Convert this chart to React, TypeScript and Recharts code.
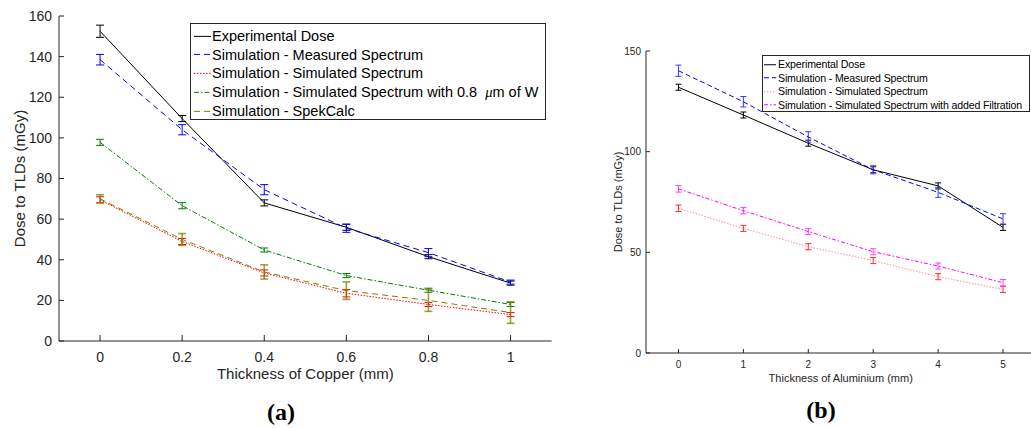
import React from "react";
import { ErrorBar, Legend, Line, LineChart, XAxis, YAxis } from "recharts";

// (a) copper filtration
const copperThickness = [0, 0.2, 0.4, 0.6, 0.8, 1];
const cuExperimental = [152.5, 109.5, 68, 56, 41.5, 28.5];
const cuExperimentalErr = [3, 1.5, 1.5, 1.5, 1, 1];
const cuMeasured = [138.5, 104, 74.5, 55.5, 43.5, 29];
const cuMeasuredErr = [2.6, 2.5, 2.5, 2, 2, 1];
const cuSimulated = [69.5, 49, 33.5, 23.5, 18, 13];
const cuSimulatedErr = [1.5, 1.5, 1.5, 1.8, 1, 1];
const cuTungsten = [97.8, 66.6, 44.8, 32.2, 25, 18];
const cuTungstenErr = [1.5, 1.5, 1, 1, 1, 1];
const cuSpekCalc = [70, 50, 34, 24.8, 20, 14];
const cuSpekCalcErr = [2, 2.9, 3.5, 4.3, 5.4, 5.3];
const cuYTicks = [0, 20, 40, 60, 80, 100, 120, 140, 160];

// (b) aluminium filtration
const aluminiumThickness = [0, 1, 2, 3, 4, 5];
const alExperimental = [132, 118.2, 104.2, 91, 83, 62.4];
const alExperimentalErr = [1.5, 1.5, 1.5, 1.5, 1.5, 1.5];
const alMeasured = [140.2, 124.8, 107.3, 91, 79.8, 66.6];
const alMeasuredErr = [2.8, 2.6, 2.6, 2, 2.5, 2.6];
const alSimulated = [71.9, 61.9, 52.8, 45.9, 37.9, 31.6];
const alSimulatedErr = [1.6, 1.5, 1.5, 1.5, 1.5, 1.5];
const alFiltered = [81.5, 70.7, 60.3, 50.3, 43.2, 34.9];
const alFilteredErr = [1.6, 1.6, 1.5, 1.5, 1.5, 1.6];
const alYTicks = [0, 50, 100, 150];

type Series = {
  key: string;
  name: React.ReactNode;
  values: number[];
  errors: number[];
  color: string;
  errColor: string;
  errWidth?: number;
  dash?: string;
};

const copperSeries: Series[] = [
  { key: "exp", name: "Experimental Dose", values: cuExperimental, errors: cuExperimentalErr, color: "#000", errColor: "#000" },
  { key: "meas", name: "Simulation - Measured Spectrum", values: cuMeasured, errors: cuMeasuredErr, color: "#0000ff", errColor: "#0000ff", dash: "6 4" },
  { key: "sim", name: "Simulation - Simulated Spectrum", values: cuSimulated, errors: cuSimulatedErr, color: "#ff0000", errColor: "#ff0000", dash: "1.5 1.5" },
  {
    key: "tung",
    name: (
      <>
        Simulation - Simulated Spectrum with 0.8&nbsp;&nbsp;<i style={{ fontFamily: "'Liberation Serif', serif" }}>μ</i>m of W
      </>
    ),
    values: cuTungsten,
    errors: cuTungstenErr,
    color: "#008000",
    errColor: "#008000",
    dash: "5 2 1.5 2",
  },
  { key: "spek", name: "Simulation - SpekCalc", values: cuSpekCalc, errors: cuSpekCalcErr, color: "#808000", errColor: "rgba(128,128,0,0.75)", errWidth: 1.6, dash: "6 4" },
];

const aluminiumSeries: Series[] = [
  { key: "exp", name: "Experimental Dose", values: alExperimental, errors: alExperimentalErr, color: "#000", errColor: "#000" },
  { key: "meas", name: "Simulation - Measured Spectrum", values: alMeasured, errors: alMeasuredErr, color: "#0000ff", errColor: "#3a3aff", dash: "5 3" },
  { key: "sim", name: "Simulation - Simulated Spectrum", values: alSimulated, errors: alSimulatedErr, color: "#ff9090", errColor: "#ff2a2a", dash: "1.5 1.5" },
  { key: "filt", name: "Simulation - Simulated Spectrum with added Filtration", values: alFiltered, errors: alFilteredErr, color: "#ff00ff", errColor: "#ff3cff", dash: "4 2 1.5 2" },
];

const buildRows = (xs: number[], series: Series[]) =>
  xs.map((x, i) => {
    const row: Record<string, number> = { x };
    series.forEach((s) => {
      row[s.key] = s.values[i];
      row[s.key + "Err"] = s.errors[i];
    });
    return row;
  });

const copperData = buildRows(copperThickness, copperSeries);
const aluminiumData = buildRows(aluminiumThickness, aluminiumSeries);

const AXIS = "#262626";

const legendBox = (
  series: Series[],
  opts: { width: number; height: number; rowH: number; padTop: number; padLeft: number; sampleW: number; gap: number; fontSize: number; spacing?: number }
) => () => (
  <div
    style={{
      boxSizing: "border-box",
      width: opts.width,
      height: opts.height,
      border: `1px solid ${AXIS}`,
      background: "#fff",
      paddingTop: opts.padTop,
      paddingLeft: opts.padLeft,
      fontSize: opts.fontSize,
      letterSpacing: opts.spacing ?? 0,
      color: "#000",
      whiteSpace: "nowrap",
    }}
  >
    {series.map((s) => (
      <div key={s.key} style={{ display: "flex", alignItems: "center", height: opts.rowH }}>
        <svg width={opts.sampleW} height={opts.rowH} style={{ marginRight: opts.gap, flex: "none" }}>
          <line x1={0} x2={opts.sampleW} y1={opts.rowH / 2} y2={opts.rowH / 2} stroke={s.color} strokeDasharray={s.dash} />
        </svg>
        <span>{s.name}</span>
      </div>
    ))}
  </div>
);

const renderLines = (series: Series[], capWidth: number) =>
  series.map((s) => (
    <Line
      key={s.key}
      type="linear"
      dataKey={s.key}
      stroke={s.color}
      strokeWidth={1}
      strokeDasharray={s.dash}
      dot={false}
      activeDot={false}
      isAnimationActive={false}
    >
      <ErrorBar dataKey={s.key + "Err"} width={capWidth} stroke={s.errColor} strokeWidth={s.errWidth ?? 1} isAnimationActive={false} />
    </Line>
  ));

const App = () => {
  return (
    <div
      style={{
        position: "absolute",
        left: 0,
        top: 0,
        width: 1031,
        height: 428,
        overflow: "hidden",
        background: "#fff",
        fontFamily: "'Liberation Sans', Arial, sans-serif",
      }}
    >
      <div style={{ position: "absolute", left: 0, top: 0 }}>
        <LineChart width={560} height={390} data={copperData} margin={{ top: 16, right: 8.4, left: 9, bottom: 9 }}>
          <XAxis
            dataKey="x"
            type="number"
            domain={[-0.1, 1.1]}
            ticks={copperThickness}
            allowDataOverflow
            height={40}
            tickSize={-6}
            tickMargin={17}
            axisLine={{ stroke: AXIS }}
            tickLine={{ stroke: AXIS }}
            tick={{ fill: AXIS, fontSize: 14 }}
            label={{ value: "Thickness of Copper (mm)", position: "insideBottom", offset: 2, style: { fill: AXIS, fontSize: 15 } }}
          />
          <YAxis
            type="number"
            domain={[0, 160]}
            ticks={cuYTicks}
            width={50}
            tickSize={-5}
            tickMargin={12}
            axisLine={{ stroke: AXIS }}
            tickLine={{ stroke: AXIS }}
            tick={{ fill: AXIS, fontSize: 14 }}
            label={{ value: "Dose to TLDs (mGy)", angle: -90, position: "insideLeft", offset: 10.5, style: { textAnchor: "middle", fill: AXIS, fontSize: 15 } }}
          />
          {renderLines(copperSeries, 4)}
          <Legend
            layout="horizontal"
            verticalAlign="middle"
            align="center"
            wrapperStyle={{ left: 190, top: 23, width: 356, height: 97 }}
            content={legendBox(copperSeries, { width: 356, height: 97, rowH: 18.75, padTop: 2.6, padLeft: 3, sampleW: 17, gap: 1, fontSize: 14.5 })}
          />
        </LineChart>
      </div>

      <div style={{ position: "absolute", left: 600, top: 0 }}>
        <LineChart width={440} height={390} data={aluminiumData} margin={{ top: 51, right: 4.5, left: 6, bottom: 5 }}>
          <XAxis
            dataKey="x"
            type="number"
            domain={[-0.5, 5.5]}
            ticks={aluminiumThickness}
            allowDataOverflow
            height={32}
            tickSize={-4}
            tickMargin={12}
            axisLine={{ stroke: AXIS }}
            tickLine={{ stroke: AXIS }}
            tick={{ fill: AXIS, fontSize: 10 }}
            label={{ value: "Thickness of Aluminium (mm)", position: "insideBottom", offset: 3, style: { fill: AXIS, fontSize: 11 } }}
          />
          <YAxis
            type="number"
            domain={[0, 150]}
            ticks={alYTicks}
            width={40}
            tickSize={-4}
            tickMargin={9}
            axisLine={{ stroke: AXIS }}
            tickLine={{ stroke: AXIS }}
            tick={{ fill: AXIS, fontSize: 10 }}
            label={{ value: "Dose to TLDs (mGy)", angle: -90, position: "insideLeft", offset: 12.3, style: { textAnchor: "middle", fill: AXIS, fontSize: 11 } }}
          />
          {renderLines(aluminiumSeries, 3)}
          <Legend
            layout="horizontal"
            verticalAlign="middle"
            align="center"
            wrapperStyle={{ left: 162, top: 55, width: 268, height: 57 }}
            content={legendBox(aluminiumSeries, { width: 268, height: 57, rowH: 13.5, padTop: 1.5, padLeft: 1, sampleW: 12, gap: 2, fontSize: 10.6, spacing: -0.15 })}
          />
        </LineChart>
      </div>

      <div style={{ position: "absolute", left: 231, width: 100, top: 399, textAlign: "center", fontFamily: "'Liberation Serif', serif", fontWeight: "bold", fontSize: 24 }}>
        (a)
      </div>
      <div style={{ position: "absolute", left: 771, width: 100, top: 397, textAlign: "center", fontFamily: "'Liberation Serif', serif", fontWeight: "bold", fontSize: 24 }}>
        (b)
      </div>
    </div>
  );
};

export default App;
